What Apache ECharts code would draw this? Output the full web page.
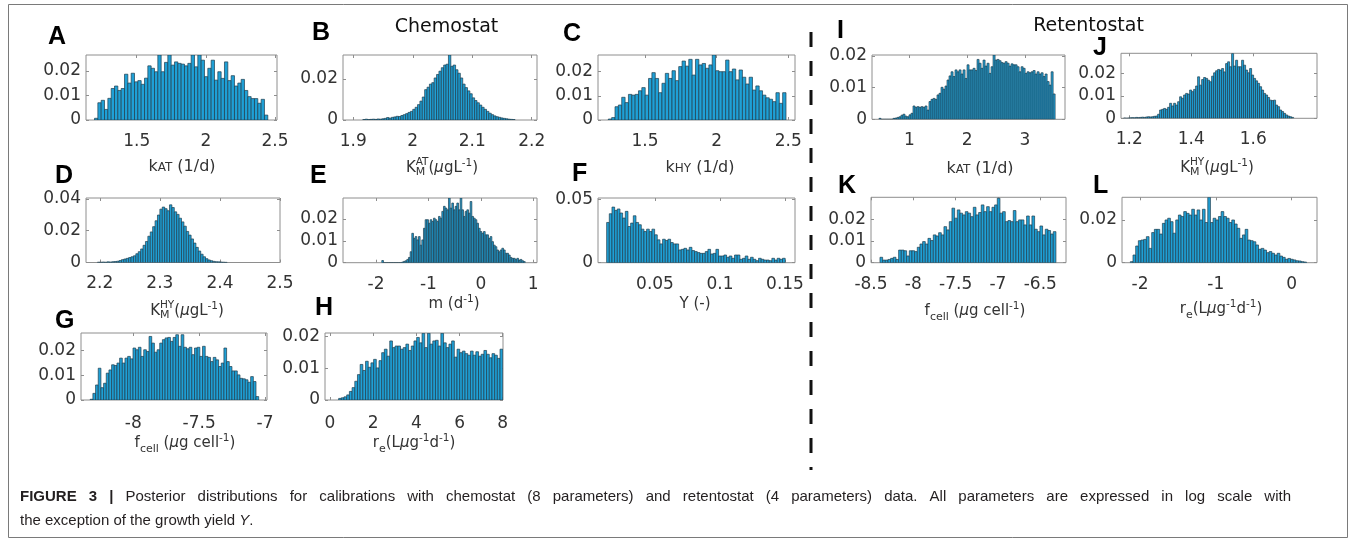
<!DOCTYPE html>
<html>
<head>
<meta charset="utf-8">
<script src="https://cdn.jsdelivr.net/npm/echarts@6/dist/echarts.min.js"></script>
<style>
html,body{margin:0;padding:0;background:#fff;}
#chart{width:1356px;height:543px;}
</style>
</head>
<body>
<div id="chart"></div>
<script>
// ---------------- DATA ----------------
const panelIds = ['A','B','C','D','E','F','G','H','I','J','K','L'];

// histogram bin start and bin width for each panel
const binStarts = [1.195, 1.916, 1.244, 2.196, -1.889, 0.0128, -8.327, 0.4, 0.4755, 1.1817, -8.394, -2.127];
const binWidths = [0.0241, 0.004, 0.0234, 0.004, 0.0318, 0.00205, 0.0203, 0.1246, 0.0346, 0.00645, 0.0315, 0.0352];

const valuesA = [0.0007,0.007,0.008,0.0043,0.0088,0.0128,0.0138,0.012,0.0128,0.0186,0.015,0.019,0.0155,0.016,0.0145,0.017,0.022,0.021,0.0196,0.0264,0.0196,0.0234,0.0264,0.0223,0.0236,0.023,0.0227,0.022,0.023,0.0264,0.0216,0.0264,0.0243,0.0176,0.021,0.0243,0.0162,0.0196,0.0169,0.0236,0.016,0.018,0.0138,0.015,0.0165,0.012,0.0095,0.0087,0.0087,0.0068,0.0084,0.002];
const valuesB = [0.0002,0.0004,0.0002,0.0003,0.0004,0.0003,0.0005,0.0004,0.0006,0.0008,0.0012,0.0009,0.0013,0.0015,0.0018,0.0017,0.0022,0.0026,0.0031,0.0037,0.0042,0.0052,0.0062,0.0075,0.0092,0.0112,0.0148,0.016,0.0175,0.0182,0.0205,0.0222,0.0238,0.0255,0.0268,0.0272,0.0317,0.0262,0.0268,0.0245,0.0228,0.0205,0.0175,0.0158,0.0142,0.0128,0.0108,0.0095,0.0084,0.0073,0.0062,0.0052,0.0042,0.0033,0.0026,0.002,0.0016,0.0013,0.001,0.0008,0.0006,0.0004,0.0003,0.0002];
const valuesC = [0.0004,0.001,0.0055,0.0062,0.0094,0.0072,0.0106,0.0103,0.0106,0.0121,0.0134,0.0103,0.0172,0.0196,0.0172,0.0113,0.0152,0.0193,0.0172,0.0204,0.0163,0.0221,0.0244,0.0223,0.0251,0.0186,0.0251,0.0228,0.0234,0.0214,0.0228,0.0269,0.0204,0.02,0.02,0.0248,0.02,0.0211,0.0166,0.0207,0.0177,0.0149,0.0177,0.0124,0.0141,0.0121,0.0103,0.0092,0.0086,0.0076,0.0113,0.0069,0.0113];
const valuesD = [0.0002,0.0002,0.0003,0.0002,0.0004,0.0003,0.0005,0.0006,0.0008,0.0012,0.0018,0.0022,0.0026,0.0031,0.0036,0.0042,0.0055,0.0068,0.0085,0.0108,0.0132,0.0165,0.0192,0.0225,0.0262,0.0298,0.0335,0.0348,0.0338,0.0325,0.0362,0.0345,0.0318,0.0302,0.0278,0.0255,0.0228,0.0195,0.0172,0.0148,0.0122,0.0095,0.0072,0.0052,0.0036,0.0024,0.0016,0.0011,0.0007,0.0005,0.0004,0.0003,0.0002,0.0001];
const valuesE = [0.001,0,0,0,0,0,0,0,0,0,0,0,0.0003,0.0006,0.0009,0.0015,0.0024,0.005,0.0134,0.0111,0.0119,0.0104,0.0119,0.008,0.0104,0.0157,0.0196,0.0196,0.018,0.0196,0.0188,0.0203,0.0196,0.0188,0.0211,0.0203,0.0234,0.0257,0.0249,0.0241,0.0295,0.0249,0.0272,0.0241,0.0257,0.0272,0.0241,0.0295,0.0241,0.0211,0.0234,0.0241,0.0226,0.0279,0.0211,0.0203,0.0196,0.018,0.0157,0.0142,0.0134,0.0142,0.0127,0.0127,0.0111,0.0119,0.0096,0.008,0.0073,0.0058,0.005,0.0058,0.0066,0.0058,0.0043,0.0043,0.0035,0.0024,0.002,0.002,0.0015,0.002,0.0012,0.0015,0.0009,0.0005];
const valuesF = [0.0319,0.0388,0.0441,0.0415,0.0426,0.0394,0.0354,0.0407,0.0287,0.0314,0.0372,0.0319,0.0301,0.0266,0.0247,0.0266,0.0247,0.0266,0.0221,0.0181,0.0149,0.0186,0.0176,0.0186,0.016,0.0149,0.0149,0.0101,0.0106,0.0114,0.0101,0.0122,0.0096,0.0088,0.008,0.0074,0.0074,0.0088,0.0106,0.0069,0.0074,0.0106,0.0053,0.0053,0.0061,0.0043,0.0053,0.0035,0.0061,0.0061,0.0027,0.0035,0.0053,0.0027,0.0043,0.0027,0.0016,0.0035,0.0027,0.0021,0.0021,0.0016,0.0035,0.0021,0.0035,0.0027,0.0035];
const valuesG = [0.0003,0.0027,0.0061,0.0129,0.005,0.0068,0.0109,0.0122,0.0143,0.014,0.015,0.017,0.015,0.017,0.0177,0.0167,0.0211,0.0204,0.0214,0.0177,0.0204,0.0197,0.0258,0.0231,0.0194,0.0204,0.0231,0.0245,0.0252,0.0254,0.0238,0.0254,0.0265,0.0218,0.0265,0.0214,0.0208,0.0214,0.0184,0.0211,0.0214,0.0177,0.0218,0.0177,0.0173,0.0156,0.0173,0.0163,0.0136,0.015,0.0211,0.0156,0.0136,0.0118,0.0118,0.0102,0.0088,0.0086,0.0082,0.0072,0.0095,0.0075,0.0014];
const valuesH = [0.0005,0.0007,0.001,0.0016,0.0027,0.0039,0.0059,0.008,0.0112,0.0093,0.0122,0.0103,0.0117,0.0128,0.0101,0.0124,0.0149,0.016,0.0138,0.0186,0.0165,0.017,0.017,0.016,0.0165,0.0176,0.0156,0.017,0.0186,0.0197,0.018,0.021,0.0165,0.021,0.0176,0.0186,0.0188,0.017,0.021,0.018,0.0165,0.0176,0.0186,0.0135,0.016,0.0149,0.0154,0.0146,0.0141,0.0154,0.0141,0.0152,0.0138,0.0144,0.0156,0.0144,0.0133,0.0146,0.0141,0.0131,0.016];
const valuesI = [0.0003,0,0,0,0,0,0,0.0003,0.0004,0.0006,0.0008,0.0013,0.0016,0.001,0.0008,0.0014,0.0019,0.0042,0.0038,0.004,0.0038,0.004,0.0038,0.0042,0.0029,0.0056,0.0063,0.0066,0.0063,0.0077,0.0082,0.0101,0.0095,0.0105,0.0124,0.0137,0.015,0.0135,0.0156,0.015,0.0156,0.0143,0.0156,0.0129,0.0172,0.0156,0.0156,0.0161,0.0154,0.0189,0.0177,0.0161,0.0187,0.0168,0.0177,0.0145,0.0166,0.0203,0.0187,0.0189,0.0185,0.0179,0.0177,0.0182,0.0177,0.0168,0.0175,0.0172,0.0172,0.0166,0.015,0.0166,0.0161,0.0145,0.015,0.0147,0.015,0.0154,0.0143,0.015,0.0143,0.0147,0.0135,0.0143,0.0119,0.0108,0.015,0.008];
const valuesJ = [0.0001,0,0.0001,0.0002,0.0003,0.0002,0.0004,0.0003,0.0004,0.0005,0.0004,0.0006,0.0007,0.0006,0.0007,0.0009,0.001,0.0018,0.0037,0.004,0.0044,0.004,0.0049,0.0067,0.0055,0.0067,0.0059,0.0074,0.0096,0.0089,0.0104,0.0111,0.0108,0.0126,0.0119,0.0129,0.0144,0.0185,0.0148,0.0173,0.0182,0.0178,0.017,0.0163,0.0188,0.0203,0.0212,0.0218,0.0215,0.0222,0.0207,0.0244,0.0252,0.023,0.0289,0.0233,0.0259,0.023,0.023,0.0259,0.0237,0.0215,0.0203,0.0222,0.0193,0.0178,0.0167,0.0156,0.0141,0.0126,0.0111,0.0104,0.0093,0.0081,0.0079,0.0081,0.0059,0.0052,0.0037,0.003,0.0022,0.0015,0.001,0.0007,0.0004];
const valuesK = [0.0025,0.0012,0.0012,0.0015,0.002,0.0025,0.0015,0.0058,0.0058,0.0055,0.0031,0.0055,0.0055,0.0051,0.0071,0.0086,0.0097,0.0086,0.0112,0.0102,0.0128,0.0123,0.0138,0.0128,0.0166,0.0151,0.0189,0.0251,0.0205,0.0243,0.0228,0.022,0.0235,0.0228,0.0212,0.0255,0.022,0.0231,0.0266,0.0235,0.0258,0.0235,0.0255,0.0266,0.0297,0.0228,0.0235,0.0189,0.0194,0.0189,0.024,0.0189,0.0197,0.0197,0.0174,0.0215,0.0174,0.0215,0.0154,0.0143,0.0169,0.0128,0.0154,0.0148,0.0132,0.0143];
const valuesL = [0.0005,0.0036,0.0078,0.0103,0.0106,0.0109,0.0122,0.0067,0.0141,0.0156,0.0156,0.0134,0.0184,0.02,0.0208,0.0192,0.0138,0.02,0.0223,0.0216,0.0239,0.0231,0.0223,0.025,0.0223,0.0247,0.02,0.025,0.0188,0.0306,0.0188,0.0208,0.02,0.0216,0.0239,0.0216,0.0208,0.0188,0.02,0.0181,0.0161,0.0114,0.013,0.0156,0.0106,0.0103,0.0098,0.0083,0.0063,0.0067,0.0059,0.0047,0.0052,0.0044,0.0036,0.0044,0.0031,0.0025,0.0016,0.002,0.0016,0.0013,0.0009,0.0008,0.0005,0.0003];
const panelValues = [valuesA,valuesB,valuesC,valuesD,valuesE,valuesF,valuesG,valuesH,valuesI,valuesJ,valuesK,valuesL];

// axis ranges
const xMins = [1.1334, 1.8827, 1.172, 2.177, -2.629, 0.00615, -8.397, -0.232, 0.355, 1.1732, -8.5, -2.237];
const xMaxs = [2.5147, 2.2089, 2.547, 2.5, 1.071, 0.1577, -6.985, 8.013, 3.691, 1.8055, -6.196, 0.334];
const yMaxs = [0.0264, 0.0317, 0.0269, 0.0405, 0.0295, 0.0513, 0.0272, 0.0211, 0.0203, 0.029, 0.0301, 0.0306];

// tick labels
const xTicks = [[1.5,2,2.5],[1.9,2,2.1,2.2],[1.5,2,2.5],[2.2,2.3,2.4,2.5],[-2,-1,0,1],[0.05,0.1,0.15],[-8,-7.5,-7],[0,2,4,6,8],[1,2,3],[1.2,1.4,1.6],[-8.5,-8,-7.5,-7,-6.5],[-2,-1,0]];
const yTicks = [[0,0.01,0.02],[0,0.02],[0,0.01,0.02],[0,0.02,0.04],[0,0.01,0.02],[0,0.05],[0,0.01,0.02],[0,0.01,0.02],[0,0.01,0.02],[0,0.01,0.02],[0,0.01,0.02],[0,0.02]];

// axis titles (parts: text, sub/sup/small-caps markers)
const lblKAT = [{t:'k'},{t:'AT',sc:1},{t:' (1/d)'}];
const lblKHY = [{t:'k'},{t:'HY',sc:1},{t:' (1/d)'}];
const lblKMAT = [{t:'K'},{t:'AT',sup:1,stack:1},{t:'M',sub:1},{t:'('},{t:'\u03bc',it:1},{t:'gL'},{t:'-1',sup:1},{t:')'}];
const lblKMHY = [{t:'K'},{t:'HY',sup:1,stack:1},{t:'M',sub:1},{t:'('},{t:'\u03bc',it:1},{t:'gL'},{t:'-1',sup:1},{t:')'}];
const lblM = [{t:'m (d'},{t:'-1',sup:1},{t:')'}];
const lblY = [{t:'Y (-)'}];
const lblF = [{t:'f'},{t:'cell',sub:1},{t:' ('},{t:'\u03bc',it:1},{t:'g cell'},{t:'-1',sup:1},{t:')'}];
const lblR = [{t:'r'},{t:'e',sub:1},{t:'(L'},{t:'\u03bc',it:1},{t:'g'},{t:'-1',sup:1},{t:'d'},{t:'-1',sup:1},{t:')'}];
const axisTitles = [lblKAT,lblKMAT,lblKHY,lblKMHY,lblM,lblY,lblF,lblR,lblKAT,lblKMHY,lblF,lblR];

const titleLeft = 'Chemostat';
const titleRight = 'Retentostat';
const captionBold = 'FIGURE 3 |';
const captionLine1 = 'Posterior distributions for calibrations with chemostat (8 parameters) and retentostat (4 parameters) data. All parameters are expressed in log scale with';
const captionLine2a = 'the exception of the growth yield ';
const captionLine2b = 'Y';
const captionLine2c = '.';

// ---------------- LAYOUT ----------------
const gridRects = [
  [86,55,191,65],[343,55,194,65],[598,55,197,65],
  [86,198,194,64.5],[343,198,194,64.7],[598,198,197,64.7],
  [81,333,186,67],[325,333,178,67],
  [872,55,193,64.3],[1121,53.3,196,65],
  [871,197.3,195,65.4],[1122,197.3,195,65.4]
];
const titlePos = [[182,172],[442,173],[700,173],[187,316],[454,309],[695,309],[185,448],[414,448],[980,174],[1217,173],[975,316],[1221,314]];
const letterPos = [[48,46],[312,42],[563,43],[55,185],[310,185],[572,183],[55,330],[315,317],[837,40],[1093,57],[838,195],[1093,195]];

const FONT = '"DejaVu Sans", sans-serif';
const BOX = '#8e8e8e';
const FILL = '#1fa0d6';
const EDGE = '#1f3d4d';

const mctx = document.createElement('canvas').getContext('2d');
function fontStr(p, fam){ return (p.it?'italic ':'') + (p.b?'bold ':'') + p.s + 'px ' + fam; }
function measure(p, fam){ mctx.font = fontStr(p, fam); return mctx.measureText(p.t).width; }
function textEl(p, fam, x, baseline, fill){
  return {type:'text', silent:true, x:x, y: baseline + (p.dy||0) - 0.35*p.s,
    style:{text:p.t, font:fontStr(p, fam), fill:fill, align:'left', verticalAlign:'middle'}};
}
function compose(parts, fam, ax, baseline, align, fill){
  let x = 0, stackX = null, stackW = 0; const items = [];
  parts.forEach(p => {
    const w = measure(p, fam);
    let px;
    if (stackX !== null){ px = stackX; x = stackX + Math.max(stackW, w); stackX = null; }
    else { px = x; x += w; }
    if (p.stack){ stackX = px; stackW = w; }
    items.push({p, px});
  });
  const left = align === 'center' ? ax - x/2 : ax;
  return items.map(it => textEl(it.p, fam, left + it.px, baseline, fill));
}
// justified line: words spread between x0 and x1
function justify(words, fam, x0, x1, baseline, fill){
  const ws = words.map(p => measure(p, fam));
  const sum = ws.reduce((a,b) => a+b, 0);
  const gap = (x1 - x0 - sum) / (words.length - 1);
  let x = x0; const out = [];
  words.forEach((p, k) => { out.push(textEl(p, fam, x, baseline, fill)); x += ws[k] + gap; });
  return out;
}
function titleParts(parts){
  const small = parts === lblKAT || parts === lblKHY;
  const main = small ? 16 : 15;
  return parts.map(p => {
    const q = {t:p.t, it:p.it, stack:p.stack};
    if (p.sc){ q.s = 12; q.dy = 0; }
    else if (p.sup){ q.s = 10.5; q.dy = p.stack ? -0.45*main : -0.42*main; }
    else if (p.sub){ q.s = 11; q.dy = p.t === 'M' ? 0.22*main : 0.3*main; }
    else { q.s = main; q.dy = 0; }
    return q;
  });
}
const fmt = v => String(+Number(v).toFixed(4));

const grids = [], xAxes = [], yAxes = [], series = [], graphics = [];
panelIds.forEach((id, i) => {
  const r = gridRects[i];
  grids.push({left:r[0], top:r[1], width:r[2], height:r[3], show:true, borderColor:BOX, borderWidth:1, backgroundColor:'#fff'});
  const tickStyle = {show:true, inside:true, length:3, lineStyle:{color:BOX, width:1}};
  const common = {type:'value', gridIndex:i, axisLine:{show:false, onZero:false}, splitLine:{show:false}};
  xAxes.push(Object.assign({}, common, {min:xMins[i], max:xMaxs[i], position:'bottom',
    axisTick:Object.assign({customValues:xTicks[i]}, tickStyle),
    axisLabel:{show:true, customValues:xTicks[i], formatter:fmt, margin:i>=6&&i<=7?15:13, fontSize:17, fontFamily:FONT, color:'#333'}}));
  xAxes.push(Object.assign({}, common, {min:xMins[i], max:xMaxs[i], position:'top',
    axisTick:Object.assign({customValues:xTicks[i]}, tickStyle), axisLabel:{show:false}}));
  yAxes.push(Object.assign({}, common, {min:0, max:yMaxs[i], position:'left',
    axisTick:Object.assign({customValues:yTicks[i]}, tickStyle),
    axisLabel:{show:true, customValues:yTicks[i], formatter:fmt, margin:5, fontSize:17, fontFamily:FONT, color:'#333'}}));
  yAxes.push(Object.assign({}, common, {min:0, max:yMaxs[i], position:'right',
    axisTick:Object.assign({customValues:yTicks[i]}, tickStyle), axisLabel:{show:false}}));
  const vals = panelValues[i];
  const data = vals.map((v, k) => [binStarts[i] + k*binWidths[i], binStarts[i] + (k+1)*binWidths[i], v]);
  series.push({
    type:'custom', xAxisIndex:2*i, yAxisIndex:2*i, clip:true, silent:true, data:data,
    encode:{x:[0,1], y:2},
    renderItem:function(params, api){
      const p0 = api.coord([api.value(0), 0]);
      const p1 = api.coord([api.value(1), api.value(2)]);
      return {type:'rect', shape:{x:p0[0], y:p1[1], width:p1[0]-p0[0], height:p0[1]-p1[1]},
        style:{fill:FILL, stroke:EDGE, lineWidth:0.7}};
    }
  });
  const tp = titlePos[i];
  compose(titleParts(axisTitles[i]), FONT, tp[0], tp[1], 'center', '#333').forEach(g => graphics.push(g));
  const lp = letterPos[i];
  compose([{t:id, b:1, s:25}], '"Liberation Sans", Arial, sans-serif', lp[0], lp[1], 'left', '#000').forEach(g => graphics.push(g));
});

// titles
compose([{t:titleLeft, s:19}], FONT, 446.5, 33.3, 'center', '#111').forEach(g => graphics.push(g));
compose([{t:titleRight, s:19}], FONT, 1088.5, 32.7, 'center', '#111').forEach(g => graphics.push(g));
// caption (line 1 justified)
const CAPF = '"Liberation Sans", Arial, sans-serif';
const capWords = captionBold.split(' ').map(w => ({t:w, b:1, s:15}))
  .concat(captionLine1.split(' ').map(w => ({t:w, s:15})));
justify(capWords, CAPF, 20, 1291, 502, '#231f20').forEach(g => graphics.push(g));
compose([{t:captionLine2a, s:15},{t:captionLine2b, s:15, it:1},{t:captionLine2c, s:15}], CAPF, 20, 526, 'left', '#231f20').forEach(g => graphics.push(g));
// separator dashed line and frame
graphics.push({type:'line', silent:true, shape:{x1:811, y1:32, x2:811, y2:470}, style:{stroke:'#111', lineWidth:3, lineDash:[15,14]}});
graphics.push({type:'rect', silent:true, shape:{x:8.5, y:4.5, width:1339, height:533}, style:{fill:'none', stroke:'#7a7a7a', lineWidth:1}, z:-1});

const chart = echarts.init(document.getElementById('chart'), null, {renderer:'canvas'});
chart.setOption({
  animation:false,
  backgroundColor:'#fff',
  grid:grids, xAxis:xAxes, yAxis:yAxes, series:series,
  graphic:{elements:graphics}
});
</script>
</body>
</html>
